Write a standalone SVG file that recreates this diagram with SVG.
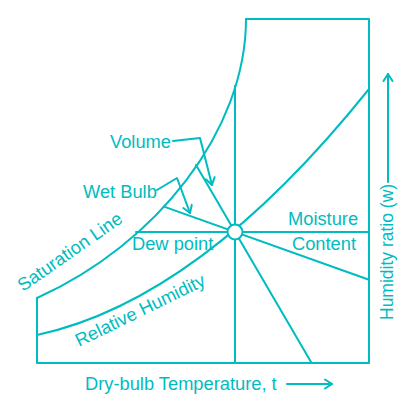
<svg xmlns="http://www.w3.org/2000/svg" width="420" height="411" viewBox="0 0 420 411">
<style>
.ln{fill:none;stroke:#00bcc0;stroke-width:2;stroke-linejoin:round;stroke-linecap:round}
.t{font-family:"Liberation Sans",Arial,sans-serif;font-size:18.3px;fill:#00bcc0}
</style>
<defs>
<marker id="ah" markerWidth="12" markerHeight="12" refX="10" refY="6" orient="auto" markerUnits="userSpaceOnUse">
<path d="M3,1.5 L10,6 L3,10.5" fill="none" stroke="#00bcc0" stroke-width="2" stroke-linecap="round" stroke-linejoin="round"/>
</marker>
</defs>
<rect width="420" height="411" fill="#ffffff"/>
<g id="chart">
<path class="ln" d="M37,298 L37,363 L369,363 L369,19 L246,19"/>
<path class="ln" d="M37,298 C157,244 246,130 246,19"/>
<path class="ln" d="M37,335 Q200,300 369,89"/>
</g>
<g id="connectors">
<line class="ln" x1="235" y1="86" x2="235" y2="363"/>
<line class="ln" x1="136" y1="232" x2="369" y2="232"/>
<line class="ln" x1="164" y1="206.6" x2="369" y2="279.8"/>
<line class="ln" x1="196" y1="165" x2="311.6" y2="363"/>
<polyline class="ln" points="173,141 200,138 212,185" marker-end="url(#ah)"/>
<polyline class="ln" points="157,190 177,178 190,213" marker-end="url(#ah)"/>
<line class="ln" x1="287" y1="384" x2="332" y2="384" marker-end="url(#ah)"/>
<line class="ln" x1="388" y1="182" x2="388" y2="74" marker-end="url(#ah)"/>
</g>
<g id="dew-point-node">
<circle cx="235" cy="232" r="7.5" fill="#ffffff" stroke="#00bcc0" stroke-width="2"/>
</g>
<g id="labels">
<text class="t" x="110" y="148">Volume</text>
<text class="t" x="83" y="198">Wet Bulb</text>
<text class="t" x="132" y="250">Dew point</text>
<text class="t" x="288" y="225">Moisture</text>
<text class="t" x="292" y="250">Content</text>
<text class="t" transform="translate(23,292) rotate(-35)">Saturation Line</text>
<text class="t" transform="translate(79,347) rotate(-26)">Relative Humidity</text>
<text class="t" x="85" y="390">Dry-bulb Temperature, t</text>
<text class="t" transform="translate(393,320) rotate(-90)" style="font-size:17.5px">Humidity ratio (w)</text>
</g>
</svg>
